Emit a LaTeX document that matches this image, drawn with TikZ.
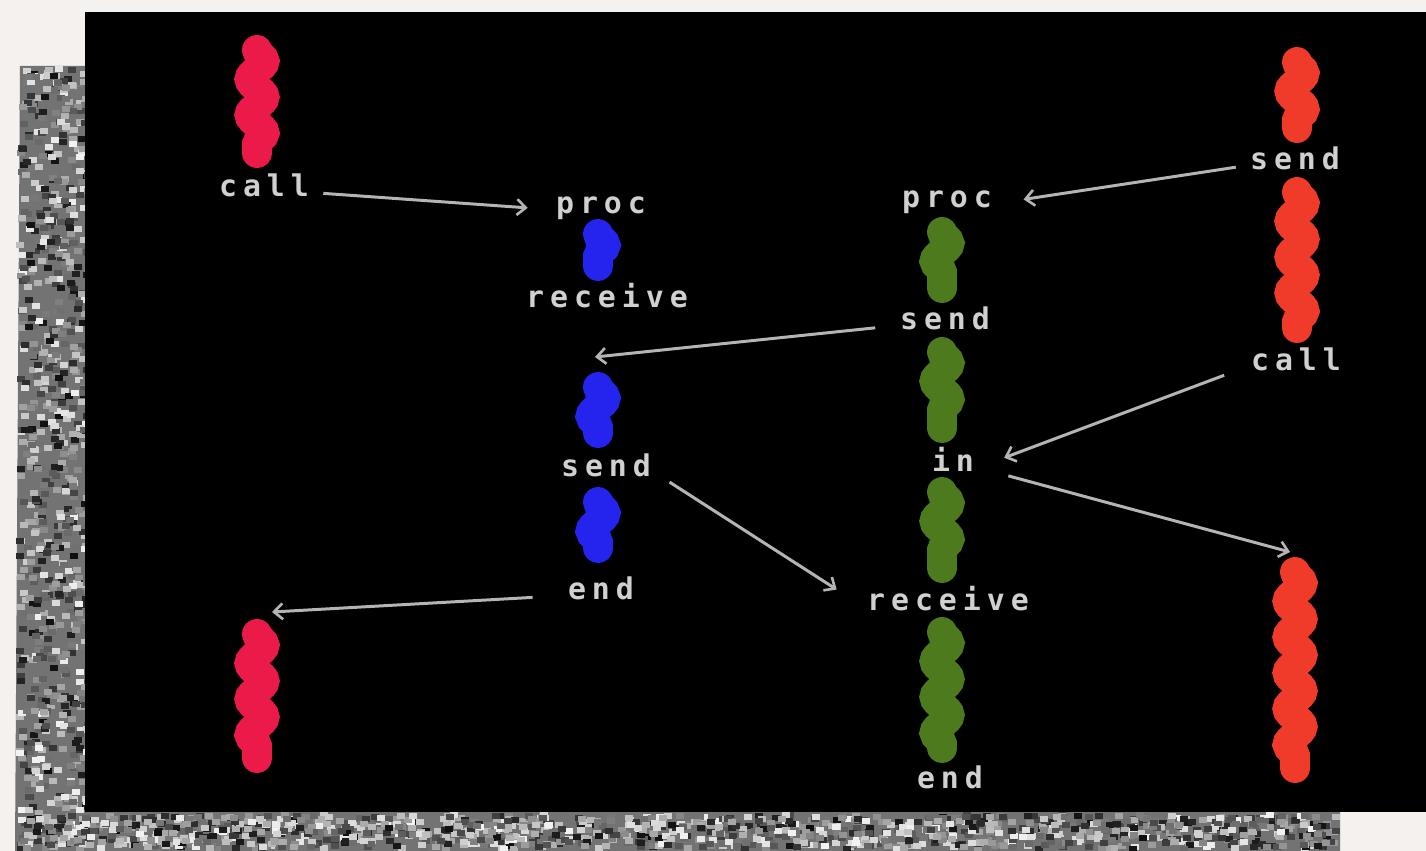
\documentclass[tikz,border=0pt]{standalone}
\usepackage{fontspec}
\usetikzlibrary{decorations.pathmorphing,arrows.meta}
\newfontfamily\termfont[LetterSpace=20]{DejaVu Sans Mono Bold}
\definecolor{paper}{HTML}{F4F1EE}
\definecolor{redL}{HTML}{EB1A48}
\definecolor{redR}{HTML}{F03A2A}
\definecolor{blueB}{HTML}{2424EE}
\definecolor{greenG}{HTML}{4E7A1E}
\definecolor{txt}{HTML}{D0D0D0}
\definecolor{arrc}{HTML}{B4B4B4}
\tikzset{
  lbl/.style={text=txt,font=\termfont\fontsize{17}{20}\selectfont,inner sep=2pt,text height=1ex,text depth=0pt,yshift=-3.2pt},
  wave/.style={line width=30*0.567pt,line cap=round,decorate,decoration={snake,amplitude=7.5*0.567pt,segment length=36*0.567pt}},
  arr/.style={draw=arrc,line width=1.7pt,-{Straight Barb[length=5pt,width=9pt,line width=1.5pt]}}
}
\begin{document}
\begin{tikzpicture}[x=0.02cm,y=-0.02cm]
\useasboundingbox (0,0) rectangle (1426,851);
\fill[paper] (0,0) rectangle (1426,851);
% noisy border
\fill[black!55] (20,66) -- (88,66) -- (88,812) -- (1340,812) -- (1340,851) -- (15,851) -- cycle;
\pgfmathsetseed{11}
\foreach \i in {1,...,800}{
  \pgfmathsetmacro\xx{16+70*rnd}
  \pgfmathsetmacro\yy{66+780*rnd}
  \pgfmathsetmacro\g{int(5+90*rnd)}
  \fill[black!\g!white] (\xx,\yy) rectangle ++(8,6);
}
\foreach \i in {1,...,1300}{
  \pgfmathsetmacro\xx{15+1318*rnd}
  \pgfmathsetmacro\yy{812+34*rnd}
  \pgfmathsetmacro\g{int(5+90*rnd)}
  \fill[black!\g!white] (\xx,\yy) rectangle ++(8,6);
}
% black screen
\fill[black] (85,12) rectangle (1426,812);
% wavy bars
\draw[wave,redL] (257,50) -- (257,153);
\draw[wave,redL] (257,634) -- (257,758);
\draw[wave,blueB] (598,234) -- (598,266);
\draw[wave,blueB] (598,387) -- (598,433);
\draw[wave,blueB] (598,502) -- (598,548);
\draw[wave,greenG] (942,232) -- (942,288);
\draw[wave,greenG] (942,352) -- (942,428);
\draw[wave,greenG] (942,492) -- (942,568);
\draw[wave,greenG] (942,632) -- (942,748);
\draw[wave,redR] (1297,62) -- (1297,128);
\draw[wave,redR] (1297,192) -- (1297,328);
\draw[wave,redR] (1295,572) -- (1295,768);
% labels
\node[lbl] (callL) at (264,187) {call};
\node[lbl] (procB) at (601,204) {proc};
\node[lbl] (receiveB) at (607,298) {receive};
\node[lbl] (sendB) at (606,467) {send};
\node[lbl] (endB) at (601,590) {end};
\node[lbl] (procG) at (947,198) {proc};
\node[lbl] (sendG) at (945,320) {send};
\node[lbl] (inG) at (953,462) {in};
\node[lbl] (receiveG) at (948,601) {receive};
\node[lbl] (endG) at (950,779) {end};
\node[lbl] (sendR) at (1295,160) {send};
\node[lbl] (callR) at (1296,361) {call};
\coordinate (tipB) at (595,357);
\coordinate (tipL) at (272,612);
\coordinate (tipR) at (1290,552);
% arrows
\draw[arr,shorten <=6pt,shorten >=14pt] (callL.east) -- (procB.west);
\draw[arr,shorten <=12pt] (sendG.west) -- (tipB);
\draw[arr,shorten <=10pt,shorten >=18pt] (sendB.east) -- (receiveG.west);
\draw[arr,shorten <=18pt] (endB.west) -- (tipL);
\draw[arr,shorten <=6pt,shorten >=16pt] (sendR.west) -- (procG.east);
\draw[arr,shorten <=14pt,shorten >=16pt] (callR.west) -- (inG.east);
\draw[arr,shorten <=18pt] (inG.east) -- (tipR);
\end{tikzpicture}
\end{document}
